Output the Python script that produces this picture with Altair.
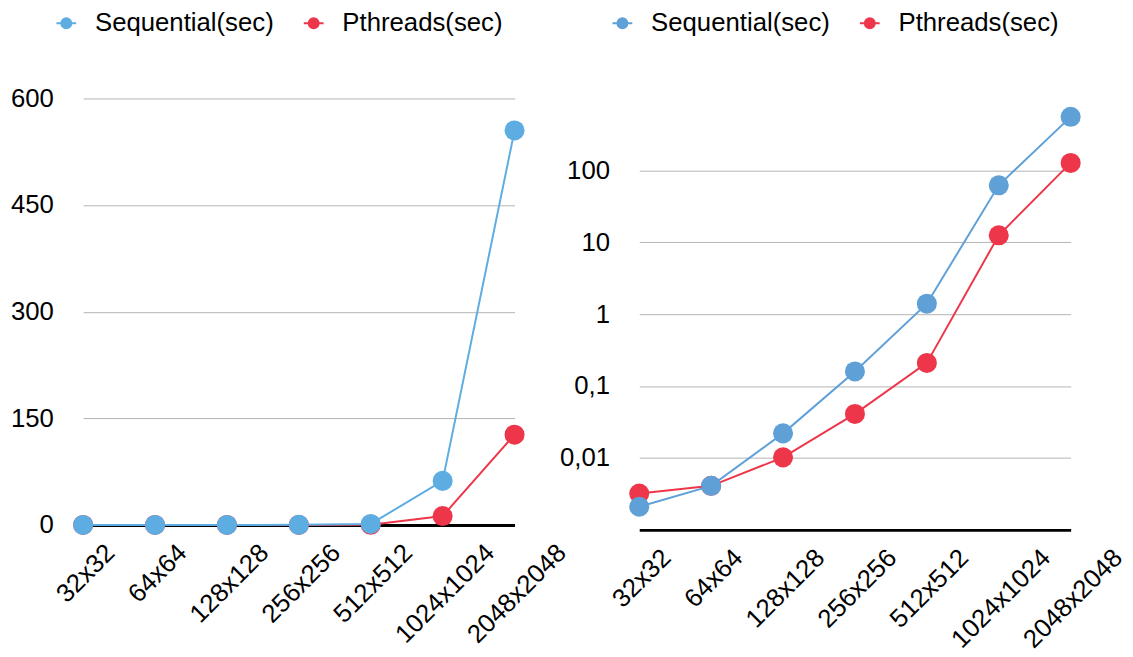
import altair as alt
import pandas as pd

# Matrix sizes and measured run times (seconds)
sizes = ["32x32", "64x64", "128x128", "256x256", "512x512", "1024x1024", "2048x2048"]
sequential_sec = [0.0021, 0.0041, 0.022, 0.16, 1.4, 62, 555]
pthreads_sec = [0.0032, 0.0041, 0.0102, 0.041, 0.21, 12.5, 127]
series_names = ["Sequential(sec)", "Pthreads(sec)"]

linear_ticks = [0, 150, 300, 450, 600]
log_ticks = [0.01, 0.1, 1, 10, 100]

# Pthreads rows first so the sequential markers are drawn on top
long = pd.DataFrame({
    "size": sizes + sizes,
    "series": [series_names[1]] * len(sizes) + [series_names[0]] * len(sizes),
    "sec": pthreads_sec + sequential_sec,
})
cats = pd.DataFrame({"size": sizes})

FONT = "Liberation Sans"
FS = 26
RED = "#EE364A"
GRID = "#B3B3B3"

# legend glyph: a short line with a solid dot in the middle
LEGEND_GLYPH = (
    "M-1,0H1"
    "M-0.5,0a0.5,0.5 0 1,0 1,0a0.5,0.5 0 1,0 -1,0"
    "M-0.3,0a0.3,0.3 0 1,0 0.6,0a0.3,0.3 0 1,0 -0.6,0"
    "M-0.1,0a0.1,0.1 0 1,0 0.2,0a0.1,0.1 0 1,0 -0.2,0"
)


def panel(yscale, ticks, label_expr, blue, height, floor):
    x = alt.X(
        "size:N", sort=sizes, title=None,
        scale=alt.Scale(type="point", padding=0),
        axis=alt.Axis(labels=False, ticks=False, grid=False,
                      domainColor="black", domainWidth=3),
    )
    axis_kw = dict(values=ticks, domain=False, ticks=False, gridColor=GRID,
                   gridWidth=1, labelPadding=30, labelFontSize=FS,
                   labelFont=FONT, labelColor="black")
    if label_expr:
        axis_kw["labelExpr"] = label_expr
    y = alt.Y("sec:Q", title=None, scale=yscale, axis=alt.Axis(**axis_kw))
    color = alt.Color(
        "series:N",
        scale=alt.Scale(domain=series_names, range=[blue, RED]),
        legend=alt.Legend(
            title=None, orient="none", legendX=-30, legendY=-89,
            direction="horizontal", labelFontSize=FS, labelFont=FONT,
            labelColor="black", labelLimit=0, symbolType=LEGEND_GLYPH,
            symbolSize=400, symbolStrokeWidth=2, columnPadding=26,
            labelOffset=16,
        ),
    )
    lines = alt.Chart(long).mark_line(
        strokeWidth=2,
        point=alt.OverlayMarkDef(filled=True, size=410, opacity=1),
    ).encode(x=x, y=y, color=color)

    labels = alt.Chart(cats).mark_text(
        angle=315, align="right", baseline="top", fontSize=FS, font=FONT,
        color="black", yOffset=15,
        xOffset=alt.ExprRef(expr="0.354 * (length(datum.size) * 14.3 - 19)"),
    ).encode(x=x, y=alt.datum(floor), text="size:N")

    return alt.layer(lines, labels).properties(width=436, height=height)


left = panel(alt.Scale(domain=[0, 600], nice=False), linear_ticks, None,
             "#5DADE2", 431, 0)
right = panel(alt.Scale(type="log", domain=[0.001, 1000], nice=False),
              log_ticks, "replace(datum.value + '', '.', ',')",
              "#5FA0D7", 436, 0.001)

chart = alt.hconcat(left, right, spacing=126, bounds="flush").resolve_scale(
    color="independent", x="independent", y="independent"
).properties(
    padding={"left": 10, "top": 7, "right": 5, "bottom": 5},
    background="white",
).configure_view(stroke=None)

chart.save("out.html", embed_options={"renderer": "svg", "actions": False})
